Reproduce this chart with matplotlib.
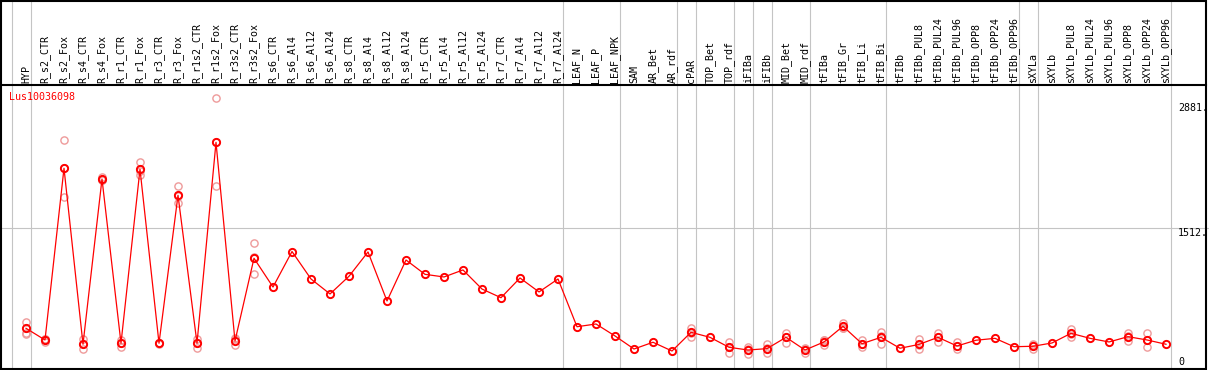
"""
Expression profile of Lus10036098 across samples (mean line + replicates)
"""
import numpy as np
import matplotlib
matplotlib.use('Agg')
import matplotlib.pyplot as plt
from matplotlib.lines import Line2D
from matplotlib.patches import Rectangle

# ---- data ----
gene = 'Lus10036098'

samples = [
    'HYP', 'R_s2_CTR', 'R_s2_Fox', 'R_s4_CTR', 'R_s4_Fox', 'R_r1_CTR', 'R_r1_Fox',
    'R_r3_CTR', 'R_r3_Fox', 'R_r1s2_CTR', 'R_r1s2_Fox', 'R_r3s2_CTR', 'R_r3s2_Fox',
    'R_s6_CTR', 'R_s6_Al4', 'R_s6_Al12', 'R_s6_Al24', 'R_s8_CTR', 'R_s8_Al4',
    'R_s8_Al12', 'R_s8_Al24', 'R_r5_CTR', 'R_r5_Al4', 'R_r5_Al12', 'R_r5_Al24',
    'R_r7_CTR', 'R_r7_Al4', 'R_r7_Al12', 'R_r7_Al24', 'LEAF_N', 'LEAF_P', 'LEAF_NPK',
    'SAM', 'AR_Bet', 'AR_rdf', 'cPAR', 'TOP_Bet', 'TOP_rdf', 'iFIBa', 'iFIBb',
    'MID_Bet', 'MID_rdf', 'tFIBa', 'tFIB_Gr', 'tFIB_Li', 'tFIB_Bi', 'tFIBb',
    'tFIBb_PUL8', 'tFIBb_PUL24', 'tFIBb_PUL96', 'tFIBb_OPP8', 'tFIBb_OPP24',
    'tFIBb_OPP96', 'sXYLa', 'sXYLb', 'sXYLb_PUL8', 'sXYLb_PUL24', 'sXYLb_PUL96',
    'sXYLb_OPP8', 'sXYLb_OPP24', 'sXYLb_OPP96',
]

mean_expr = [
    413, 285, 2166, 238, 2048, 249, 2155, 249, 1870, 249, 2450, 274, 1180,
    865, 1254, 953, 789, 983, 1249, 712, 1161, 1004, 975, 1052, 843,
    748, 964, 811, 953, 430, 460, 329,
    186, 260, 164, 369, 314, 205, 175, 190, 314, 175,
    263, 435, 244, 314, 194, 236, 314, 219, 282, 303, 211,
    216, 252, 358, 303, 263, 321, 285, 238,
]

# replicate values (empty where only one sample was shown)
replicates = [
    [485, 365, 347], [292, 266, 297], [2472, 1855, 2171], [292, 186, 236],
    [2067, 2037, 2040], [285, 208, 254], [2235, 2092, 2138], [255, 249, 243],
    [1968, 1782, 1860], [299, 200, 248], [2932, 1968, 2450], [303, 227, 292],
    [1344, 1004, 1192],
    [], [], [], [], [], [], [], [], [], [], [], [], [], [], [], [],
    [], [], [],
    [], [], [], [420, 321, 366], [], [263, 146, 205], [211, 131, 183],
    [238, 139, 193], [365, 255, 322], [194, 146, 186],
    [227, 280, 282], [468, 420, 417], [285, 211, 237], [376, 241, 325], [],
    [292, 186, 230], [358, 263, 321], [260, 183, 214], [], [], [],
    [238, 183, 227], [], [405, 314, 355], [], [], [358, 277, 328],
    [358, 211, 285], [],
]

# last sample of each group (separator drawn just after it)
group_ends = [-1, 0, 28, 31, 34, 35, 37, 38, 39, 41, 45, 52, 53, 60]

axis_labels = ['2881.', '1512.', '0']
axis_values = [2881, 1512, 0]

# ---- figure ----
W, H = 1209, 370
fig = plt.figure(figsize=(W / 100, H / 100), dpi=100)
mono = 'DejaVu Sans Mono'
fs = 7.2

x = np.arange(len(samples))
xlim = (-26 / 19, (W - 26) / 19)
hdr_h = 85

ax_hdr = fig.add_axes([0, (H - hdr_h) / H, 1, hdr_h / H])
ax = fig.add_axes([0, 0, 1, (H - hdr_h) / H])

for a in (ax_hdr, ax):
    a.set_xlim(*xlim)
    a.set_xticks([])
    a.set_yticks([])
    for s in a.spines.values():
        s.set_visible(False)
    for g in group_ends:
        a.axvline(g + 0.25, color='#c4c4c4', lw=0.8, zorder=0)

ax_hdr.set_ylim(0, 1)
for xi, name in zip(x, samples):
    ax_hdr.text(xi, 2 / hdr_h, name, rotation=90, ha='center', va='bottom',
                family=mono, fontsize=fs, color='black')

ax.set_ylim(-44, 3078)
ax.axhline(1512, color='#c4c4c4', lw=0.8, zorder=0)

# replicates behind, mean profile on top
for xi, reps in zip(x, replicates):
    if reps:
        ax.plot([xi] * len(reps), reps, 'o', ms=5.2, mfc='none', mec='#ee9a9a',
                mew=1.0, zorder=2)
ax.plot(x, mean_expr, '-', color='#ff0000', lw=0.9, zorder=3)
ax.plot(x, mean_expr, 'o', ms=5.2, mfc='none', mec='#ff0000', mew=1.4, zorder=4)

ax.text(9.5 / W, (H - 97.3) / (H - hdr_h), gene, transform=ax.transAxes,
        ha='left', va='center', family=mono, fontsize=fs, color='#ff0000')

yt = ax.get_yaxis_transform()
for lab, v in zip(axis_labels, axis_values):
    if v == 0:
        ax.text(1178 / W, v + 44, lab, transform=yt, ha='left', va='center',
                family=mono, fontsize=fs)
    else:
        ax.text(1178 / W, v, lab, transform=yt, ha='left', va='top',
                family=mono, fontsize=fs)

# outer frame + header separator
fig.add_artist(Rectangle((1 / W, 1 / H), 1205 / W, (H - 1.5) / H,
                         transform=fig.transFigure, fill=False, lw=1.5,
                         edgecolor='black'))
fig.add_artist(Line2D([1 / W, 1206 / W], [(H - hdr_h) / H] * 2,
                      transform=fig.transFigure, color='black', lw=1.5))

plt.savefig('out.png', dpi=100)
plt.close()
